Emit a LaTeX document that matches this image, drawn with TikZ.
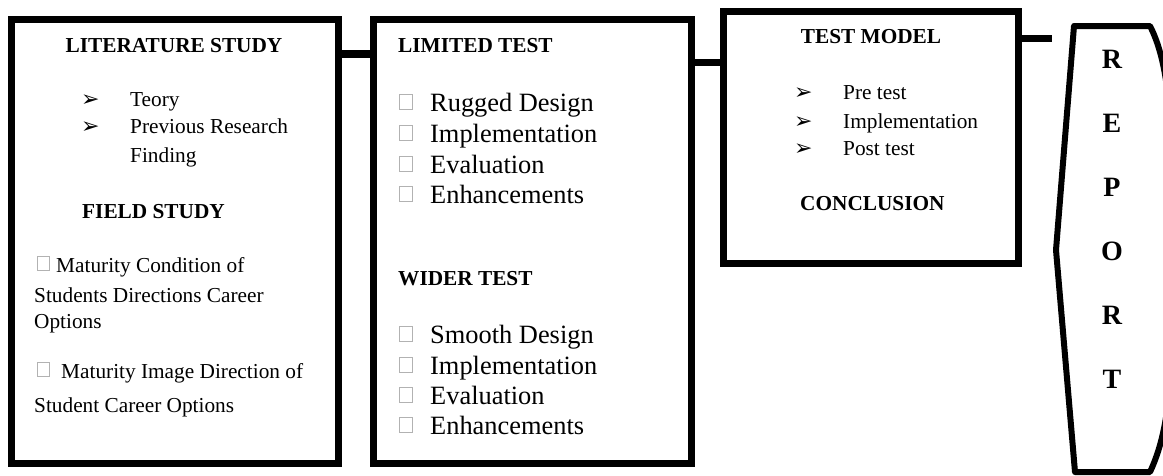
\documentclass[tikz,border=0pt]{standalone}
\usepackage{fontspec}
\setmainfont{Liberation Serif}
\newfontfamily\dejavu{DejaVu Sans}
\begin{document}
\begin{tikzpicture}[x=1pt,y=-1pt,
  box/.style={draw, line width=7pt, inner sep=0pt},
  conn/.style={line width=8pt},
  repline/.style={line width=6pt, line join=round},
  head/.style={font=\fontsize{21.3}{25}\selectfont\bfseries, inner sep=0pt, anchor=base west},
  txt/.style={font=\fontsize{21.3}{25}\selectfont, inner sep=0pt, anchor=base west},
  big/.style={font=\fontsize{26.4}{30}\selectfont, inner sep=0pt, anchor=base west},
  arr/.style={font=\dejavu\fontsize{22}{24}\selectfont, inner sep=0pt, anchor=base west},
  chk/.style={draw=gray!60, line width=0.7pt, minimum width=12pt, minimum height=14pt, inner sep=0pt, anchor=south west},
  rep/.style={font=\fontsize{28}{30}\selectfont\bfseries, inner sep=0pt, anchor=base}]
\useasboundingbox (0,0) rectangle (1163,475);

% boxes
\node[box, minimum width=327pt, minimum height=444pt] (b1) at (175,241.5) {};
\node[box, minimum width=318pt, minimum height=444pt] (b2) at (532.5,241.5) {};
\node[box, minimum width=295pt, minimum height=252.5pt] (b3) at (871,137.25) {};

% connectors
\coordinate (rp) at (1052,41.5);
\draw[conn] ([yshift=-37.5pt]b1.north east) -- ([yshift=-37.5pt]b1.north east -| b2.west);
\draw[conn, line width=7pt] ([yshift=-46.5pt]b2.north east) -- ([yshift=-46.5pt]b2.north east -| b3.west);
\draw[conn, line width=7pt] ([yshift=-30.5pt]b3.north east) -- ([yshift=-30.5pt]b3.north east -| rp);

% report shape
\begin{scope}
\clip (0,0) rectangle (1163,475);
\draw[repline] (1074,26) -- (1150,26) .. controls (1165,55) and (1171,100) .. (1171,160)
  -- (1171,340) .. controls (1171,400) and (1165,440) .. (1150,472) -- (1075,472) -- (1056,250) -- cycle;
\end{scope}
\node[rep] (r1) at (1112,68) {R};
\node[rep] (r2) at (1112,132) {E};
\node[rep] (r3) at (1112,196) {P};
\node[rep] (r4) at (1112,260) {O};
\node[rep] (r5) at (1112,324) {R};
\node[rep] (r6) at (1112,388) {T};

% box 1
\node[head, anchor=base] (h1) at (174,52) {LITERATURE STUDY};
\node[arr] (a11) at (81,106) {➢};
\node[txt] (t11) at (130,106) {Teory};
\node[arr] (a12) at (81,133) {➢};
\node[txt] (t12) at (130,133) {Previous Research};
\node[txt] (t13) at (130,162) {Finding};
\node[head] (h2) at (82,218) {FIELD STUDY};
\node[chk] (c11) at (37,271) {};
\node[txt] (t14) at (56,272) {Maturity Condition of};
\node[txt] (t15) at (34,302) {Students Directions Career};
\node[txt] (t16) at (34,328) {Options};
\node[chk] (c12) at (37,377) {};
\node[txt] (t17) at (61,378) {Maturity Image Direction of};
\node[txt] (t18) at (34,412) {Student Career Options};

% box 2
\node[head] (h3) at (398,52) {LIMITED TEST};
\node[chk, minimum width=13pt, minimum height=15pt] (c21) at (399,110) {};
\node[big] (t21) at (430,111) {Rugged Design};
\node[chk, minimum width=13pt, minimum height=15pt] (c22) at (399,141) {};
\node[big] (t22) at (430,142) {Implementation};
\node[chk, minimum width=13pt, minimum height=15pt] (c23) at (399,172) {};
\node[big] (t23) at (430,173) {Evaluation};
\node[chk, minimum width=13pt, minimum height=15pt] (c24) at (399,202) {};
\node[big] (t24) at (430,203) {Enhancements};
\node[head] (h4) at (398,285) {WIDER TEST};
\node[chk, minimum width=13pt, minimum height=15pt] (c25) at (399,342) {};
\node[big] (t25) at (430,343) {Smooth Design};
\node[chk, minimum width=13pt, minimum height=15pt] (c26) at (399,373) {};
\node[big] (t26) at (430,374) {Implementation};
\node[chk, minimum width=13pt, minimum height=15pt] (c27) at (399,403) {};
\node[big] (t27) at (430,404) {Evaluation};
\node[chk, minimum width=13pt, minimum height=15pt] (c28) at (399,433) {};
\node[big] (t28) at (430,434) {Enhancements};

% box 3
\node[head, anchor=base] (h5) at (871,43) {TEST MODEL};
\node[arr] (a31) at (794,99) {➢};
\node[txt] (t31) at (843,99) {Pre test};
\node[arr] (a32) at (794,128) {➢};
\node[txt] (t32) at (843,128) {Implementation};
\node[arr] (a33) at (794,155) {➢};
\node[txt] (t33) at (843,155) {Post test};
\node[head] (h6) at (800,210) {CONCLUSION};
\end{tikzpicture}
\end{document}
